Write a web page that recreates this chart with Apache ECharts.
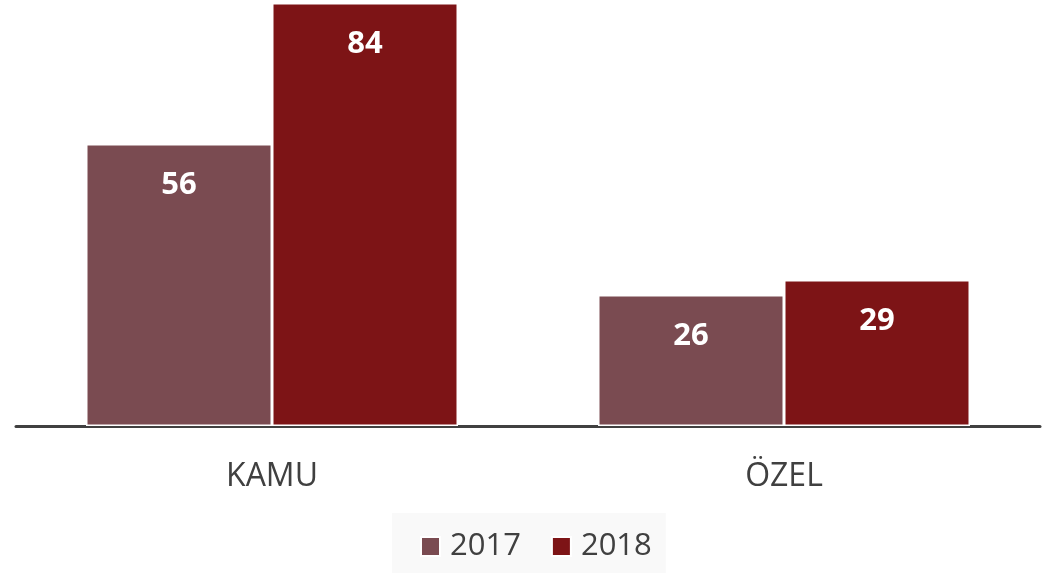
<!DOCTYPE html>
<html>
<head>
    <meta charset="utf-8">
    <title>KAMU / ÖZEL</title>
    <style type="text/css">
        * { margin: 0; padding: 0; }
        body { background: #fff; }
        #chart { width: 1047px; height: 573px; }
    </style>
</head>
<body>
    <div id="chart"></div>
    <script src="https://cdn.jsdelivr.net/npm/echarts@6/dist/echarts.min.js"></script>
    <script type="text/javascript">
        // data
        var categories = ['KAMU', 'ÖZEL'];
        var seriesNames = ['2017', '2018'];
        var values2017 = [56, 26];
        var values2018 = [84, 29];
        var colors = ['#7a4b51', '#7d1416'];

        var myChart = echarts.init(document.getElementById('chart'));

        var labelStyle = {
            show: true,
            position: 'insideTop',
            distance: 26,
            color: '#fff',
            fontSize: 31,
            fontWeight: 'bold',
            fontFamily: 'Open Sans'
        };

        var option = {
            animation: false,
            color: colors,
            grid: { left: 16, right: 7, top: 3, bottom: 147 },
            legend: {
                bottom: 0,
                left: 392,
                data: seriesNames,
                icon: 'rect',
                itemWidth: 19,
                itemHeight: 19,
                itemGap: 30,
                padding: [18, 14, 11, 28],
                backgroundColor: '#f9f9f9',
                textStyle: { fontSize: 31, color: '#404040', fontFamily: 'Open Sans', padding: [0, 0, 0, 5] }
            },
            xAxis: {
                type: 'category',
                data: categories,
                axisLine: { lineStyle: { color: '#404040', width: 3 } },
                axisTick: { show: false },
                axisLabel: { fontSize: 32, color: '#404040', margin: 35, fontFamily: 'Open Sans' }
            },
            yAxis: {
                type: 'value',
                min: 0,
                max: 84,
                show: false,
                splitLine: { show: false }
            },
            series: [{
                name: seriesNames[0],
                type: 'bar',
                data: values2017,
                barWidth: 186,
                barGap: '0%',
                itemStyle: { borderColor: '#fff', borderWidth: 1.5 },
                label: labelStyle
            }, {
                name: seriesNames[1],
                type: 'bar',
                data: values2018,
                barWidth: 186,
                itemStyle: { borderColor: '#fff', borderWidth: 1.5 },
                label: labelStyle
            }]
        };

        myChart.setOption(option);
    </script>
</body>
</html>
